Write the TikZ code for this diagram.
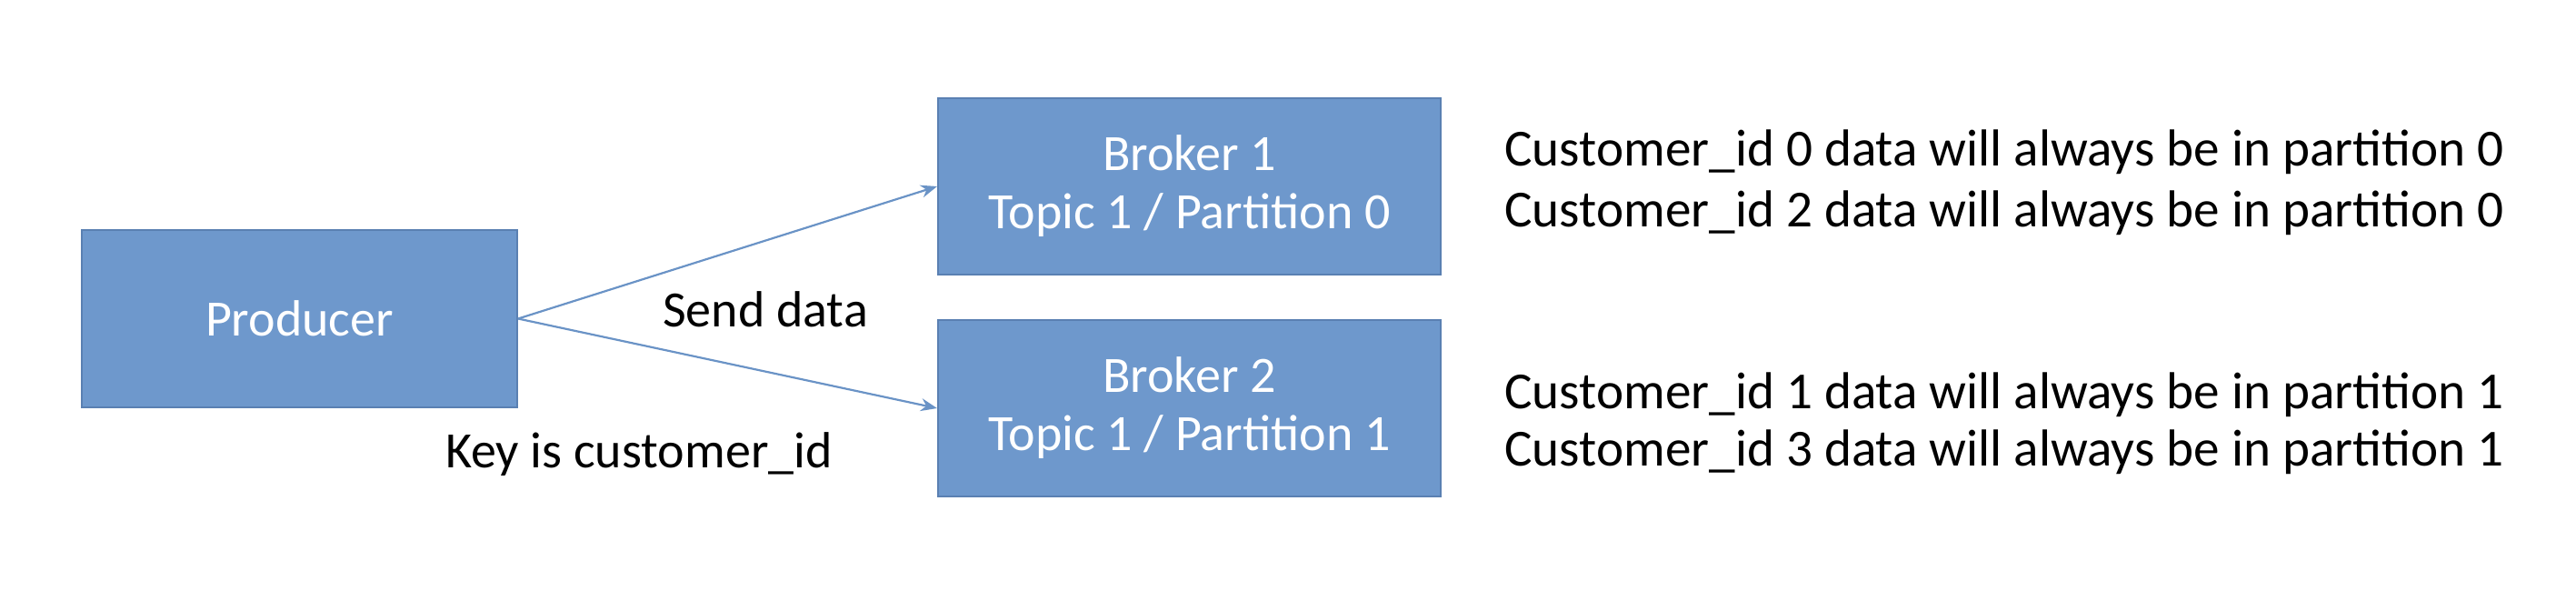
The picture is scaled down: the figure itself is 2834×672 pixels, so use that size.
\documentclass[tikz,border=0pt]{standalone}
\usepackage{fontspec}
\setmainfont{Carlito}
\usetikzlibrary{arrows.meta}
\definecolor{boxfill}{HTML}{6E98CC}
\definecolor{boxedge}{HTML}{5A80B2}
\definecolor{arrowc}{HTML}{6A93C6}
\tikzset{
  blockbox/.style={draw=boxedge, line width=1pt, fill=boxfill, text=white, align=center,
    inner sep=0pt, font=\fontsize{28}{32}\selectfont},
  lbl/.style={text=black, inner sep=0pt, font=\fontsize{28}{33}\selectfont},
  conn/.style={draw=arrowc, line width=1.1pt, -{Stealth[length=9pt,width=7pt]}}
}
\begin{document}
\begin{tikzpicture}[x=0.5pt,y=-0.5pt]
\useasboundingbox (0,0) rectangle (2834,672);
\node[blockbox, minimum width=239.5pt, minimum height=97.5pt] (prod) at (329.5,350.5) {Producer};
\node[blockbox, minimum width=276.5pt, minimum height=97pt] (b1) at (1308.5,205) {Broker 1\\Topic 1 / Partition 0};
\node[blockbox, minimum width=276.5pt, minimum height=97pt] (b2) at (1308.5,449) {Broker 2\\Topic 1 / Partition 1};
\draw[conn] (prod.east) -- (b1.west);
\draw[conn] (prod.east) -- (b2.west);
\node[lbl] (send) at (842,340) {Send data};
\node[lbl] (key) at (703,500) {Key is customer\_id};
\node[lbl, anchor=west, align=left, font=\fontsize{28.6}{33.5}\selectfont] (t1) at (1655,201) {Customer\_id 0 data will always be in partition 0\\Customer\_id 2 data will always be in partition 0};
\node[lbl, anchor=west, align=left, font=\fontsize{28.6}{31.5}\selectfont] (t2) at (1655,466) {Customer\_id 1 data will always be in partition 1\\Customer\_id 3 data will always be in partition 1};
\end{tikzpicture}
\end{document}
